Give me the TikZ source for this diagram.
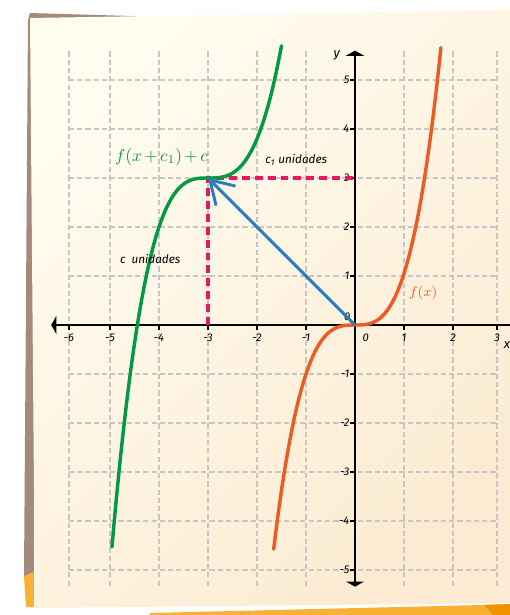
\documentclass[tikz,border=0pt]{standalone}
\usepackage{fontspec}
\setsansfont{Fira Sans}
\usetikzlibrary{arrows.meta,positioning}

\definecolor{paperA}{HTML}{FFFCF0}
\definecolor{paperB}{HTML}{FCEBD2}
\definecolor{brownc}{HTML}{A38A7A}
\definecolor{orangeA}{HTML}{F8B133}
\definecolor{orangeB}{HTML}{F29100}
\definecolor{gridc}{HTML}{C6C6C6}
\definecolor{greenc}{HTML}{009A44}
\definecolor{orangec}{HTML}{EC5B24}
\definecolor{bluec}{HTML}{2A7CC1}
\definecolor{magc}{HTML}{E5195F}

\begin{document}
\begin{tikzpicture}[
    gridline/.style={draw=gridc, line width=0.8pt, dash pattern=on 3pt off 1.8pt},
    axisline/.style={draw=black, line width=1.1pt},
    axistip/.tip={Triangle[length=3pt, width=10.5pt]},
    numlbl/.style={font=\fontsize{6.5}{7}\selectfont\sffamily\itshape, inner sep=0.5pt},
    unidlbl/.style={font=\fontsize{6.8}{8}\selectfont\sffamily\itshape, inner sep=1pt},
    fnlbl/.style={font=\fontsize{10}{11}\selectfont, inner sep=1pt},
    cubic/.style={line width=2pt, line cap=round},
    shiftline/.style={draw=magc, line width=1.9pt, dash pattern=on 4.6pt off 2.9pt}
]
\useasboundingbox (-7.245,-5.918) rectangle (3.163,6.633);

% sheet of paper
\begin{scope}[shift={(-7.245,6.633)}, x=0.20408mm, y=-0.20408mm]
  \fill[brownc] (30,13) -- (165,17) -- (34,20) -- (34,574) -- (24,576) -- (28,20) -- cycle;
  \fill[orangeA] (24,576) -- (34,572) -- (34,607) -- (26,607) -- cycle;
  \fill[orangeA] (150,613) -- (482,605) -- (510,604) -- (510,615) -- (150,615) -- cycle;
  \fill[orangeB] (484,605) -- (510,604) -- (510,615) -- (493,615) -- cycle;
  \shade[top color=paperA, bottom color=paperB, shading angle=45]
    (30,18) -- (510,10) -- (510,603) -- (35,608) -- cycle;
\end{scope}

% grid
\foreach \gx in {-5.84,-5,-4,-3,-2,-1,0,1,2,2.9}
  \draw[gridline] (\gx,-5.32) -- (\gx,5.62);
\foreach \gy in {-5,...,5}
  \draw[gridline] (-5.84,\gy) -- (2.9,\gy);

% axes
\coordinate (O) at (0,0);
\coordinate (xl) at (-6.2,0);
\coordinate (xr) at (3.3,0);
\coordinate (yb) at (0,-5.34);
\coordinate (yt) at (0,5.6);
\draw[axisline, axistip-] (xl) -- (xr);
\draw[axisline, axistip-axistip] (yb) -- (yt);

\foreach \gx/\lab [count=\i] in {-5.84/-6,-5/-5,-4/-4,-3/-3,-2/-2,-1/-1,1/1,2/2,2.9/3}{
  \draw[axisline, line width=0.8pt] (\gx,0) -- (\gx,-0.1);
  \node[numlbl] (xn\i) at (\gx,-0.26) {\lab};
}
\foreach \gy [count=\i] in {-5,-4,-3,-2,-1,1,2,3,4,5}{
  \draw[axisline, line width=0.8pt] (0,\gy) -- (-0.1,\gy);
  \node[numlbl, anchor=east] (yn\i) at (-0.09,\gy) {\gy};
}
\node[numlbl] (zeroA) at (-0.16,0.17) {0};
\node[numlbl] (zeroB) at (0.22,-0.25) {0};
\node[numlbl, font=\fontsize{7.5}{8}\selectfont\sffamily\itshape] (ylbl) at (-0.37,5.51) {y};
\node[numlbl, font=\fontsize{7.5}{8}\selectfont\sffamily\itshape] (xlbl) at (3.1,-0.4) {x};

% shift of the point (0,0) to (-3,3)
\coordinate (P) at (-3,3);
\coordinate (Px) at (-3,0);
\coordinate (Py) at (0,3);
\draw[shiftline] (Px) -- (P) -- (Py);

% curves
\draw[cubic, draw=orangec] plot[domain=-1.66:0, samples=40] (\x,{\x^3})
  -- plot[domain=0:1.754, samples=40] (\x,{1.05*\x^3});
\draw[cubic, draw=greenc] plot[domain=-1.96:0, samples=40] ({\x-3},{\x^3+3})
  -- plot[domain=0:1.5, samples=40] ({\x-3},{0.8*\x^3+3});

\draw[line width=1.7pt, draw=bluec, -{Straight Barb[length=13pt, width=16pt]}] (O) -- (P);

% labels
\node[fnlbl, text=greenc] (gname) at (-3.95,3.43) {\medmuskip=2.5mu $f(x+c_1)+c$};
\node[fnlbl, font=\fontsize{8.5}{10}\selectfont, text=orangec] (fname) at (1.39,0.65) {$f(x)$};
\node[unidlbl] (conelbl) at (-1.2,3.37) {c\textsubscript{1} unidades};
\node[unidlbl] (clbl) at (-4.18,1.35) {c~~unidades};
\end{tikzpicture}
\end{document}
